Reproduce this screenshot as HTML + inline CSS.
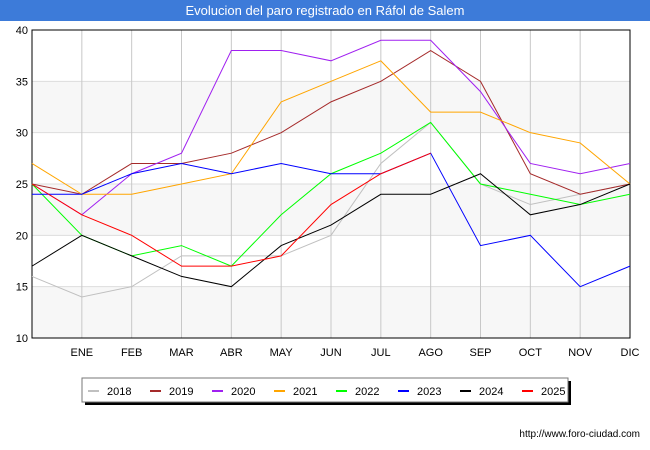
<!DOCTYPE html>
<html><head><meta charset="utf-8"><style>
body{margin:0;background:#fff;font-family:"Liberation Sans",sans-serif;}
#wrap{position:relative;width:650px;height:450px;overflow:hidden;}
</style></head><body>
<div id="wrap">
<svg id="svg" width="650" height="450" xmlns="http://www.w3.org/2000/svg">
<rect x="0" y="0" width="650" height="21" fill="#3d7bd9"/>
<text x="325" y="15" text-anchor="middle" fill="#fff" font-size="13" font-family="Liberation Sans, sans-serif">Evolucion del paro registrado en Ráfol de Salem</text>
<g id="bands"></g><g id="grid"></g><g id="axes"></g><g id="series"></g>
<rect x="82" y="378" width="486" height="24" fill="#000" transform="translate(3,3)"/>
<rect x="82" y="378" width="486" height="24" fill="#fff" stroke="#777"/>
<g id="legend"></g>
<text x="640" y="437" text-anchor="end" font-size="10" fill="#000" font-family="Liberation Sans, sans-serif">http://www.foro-ciudad.com</text>
</svg>
</div>
<script>
const months=["","ENE","FEB","MAR","ABR","MAY","JUN","JUL","AGO","SEP","OCT","NOV","DIC"];
const yTicks=[10,15,20,25,30,35,40];
const years=["2018","2019","2020","2021","2022","2023","2024","2025"];
const colors=["#c0c0c0","#a52a2a","#a020f0","#ffa500","#00ff00","#0000ff","#000000","#ff0000"];
const s2018=[16,14,15,18,18,18,20,27,31,25,23,24,25];
const s2019=[25,24,27,27,28,30,33,35,38,35,26,24,25];
const s2020=[25,22,26,28,38,38,37,39,39,34,27,26,27];
const s2021=[27,24,24,25,26,33,35,37,32,32,30,29,25];
const s2022=[25,20,18,19,17,22,26,28,31,25,24,23,24];
const s2023=[24,24,26,27,26,27,26,26,28,19,20,15,17];
const s2024=[17,20,18,16,15,19,21,24,24,26,22,23,25];
const s2025=[25,22,20,17,17,18,23,26,28];
const allSeries=[s2018,s2019,s2020,s2021,s2022,s2023,s2024,s2025];
const X0=32,X1=630,Y0=338,Y1=30,ymin=10,ymax=40;
const xs=i=>X0+i*(X1-X0)/(months.length-1);
const ys=v=>Y0-(v-ymin)*(Y0-Y1)/(ymax-ymin);
const NS="http://www.w3.org/2000/svg";
function mk(p,t,a){const e=document.createElementNS(NS,t);for(const k in a)e.setAttribute(k,a[k]);p.appendChild(e);return e;}
const bands=document.getElementById('bands'),grid=document.getElementById('grid'),axes=document.getElementById('axes'),ser=document.getElementById('series'),leg=document.getElementById('legend');
for(let i=0;i<yTicks.length-1;i+=2){const r=mk(bands,'rect',{x:X0,y:ys(yTicks[i+1]),width:X1-X0,height:ys(yTicks[i])-ys(yTicks[i+1]),fill:'#f7f7f7'});

}
yTicks.forEach(v=>{const l=mk(grid,'line',{x1:X0,x2:X1,y1:ys(v),y2:ys(v),stroke:'#ddd'});


const t=mk(axes,'text',{x:X0-4,y:ys(v)+4,'text-anchor':'end','font-size':11,'font-family':'Liberation Sans, sans-serif'});t.textContent=v;

});
months.forEach((m,i)=>{const l=mk(grid,'line',{x1:xs(i),x2:xs(i),y1:Y1,y2:Y0,stroke:'#c8c8c8'});


if(m){const t=mk(axes,'text',{x:xs(i),y:356,'text-anchor':'middle','font-size':11,'font-family':'Liberation Sans, sans-serif'});t.textContent=m;

}});
const fr=mk(axes,'rect',{x:X0,y:Y1,width:X1-X0,height:Y0-Y1,fill:'none',stroke:'#000'});


allSeries.forEach((s,k)=>{const p=mk(ser,'polyline',{points:s.map((v,i)=>xs(i)+','+ys(v)).join(' '),fill:'none',stroke:colors[k],'stroke-width':1});


const lx=88+k*62;
const sw=mk(leg,'line',{x1:lx,x2:lx+11,y1:391,y2:391,stroke:colors[k],'stroke-width':2});


const t=mk(leg,'text',{x:lx+19,y:395,'font-size':11,'font-family':'Liberation Sans, sans-serif'});t.textContent=years[k];

});
</script>
</body></html>
